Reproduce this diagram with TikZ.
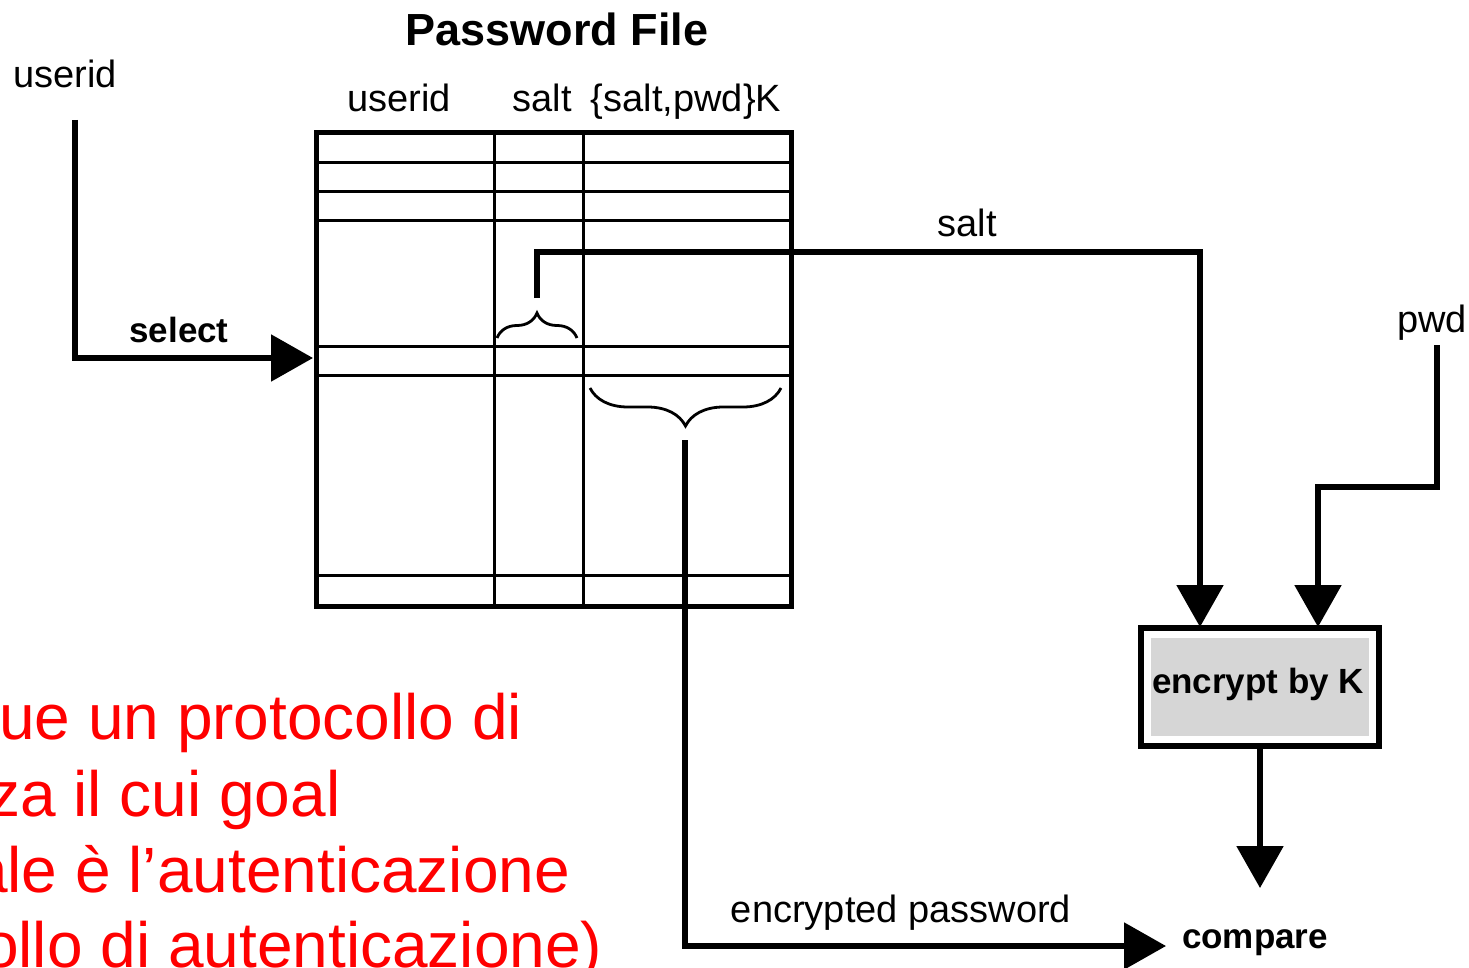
\documentclass[tikz,border=0pt]{standalone}
\usepackage{fontspec}
\setmainfont{Liberation Sans}
\usetikzlibrary{arrows.meta,decorations.pathreplacing}
\definecolor{boxgray}{RGB}{214,214,214}
\definecolor{notered}{RGB}{255,0,0}
\begin{document}
\begin{tikzpicture}[x=1pt,y=-1pt,
  lbl/.style={inner sep=0pt, anchor=base, font=\fontsize{38}{44}\selectfont},
  blbl/.style={inner sep=0pt, anchor=base, font=\fontsize{35}{42}\selectfont\bfseries},
  conn/.style={line width=5.5pt},
  bigtip/.style={-{Triangle[length=42pt,width=46pt]}},
  gridline/.style={line width=3pt},
  brc/.style={line width=2.8pt, decorate, decoration={brace, amplitude=#1}},
  redline/.style={inner sep=0pt, anchor=base west, text=notered,
    font=\fontsize{64}{76}\selectfont}
]
\useasboundingbox (0,0) rectangle (1469,968);
\fill[white] (0,0) rectangle (1469,968);
\clip (0,0) rectangle (1469,968);

% password file table
\node[draw, line width=5pt, minimum width=475pt, minimum height=473pt,
      inner sep=0pt] (pwfile) at (553.5,369.5) {};
\foreach \cx in {494,583}
  \draw[gridline] (\cx,133) -- (\cx,606);
\foreach \ry in {163,192,221,346,375,575}
  \draw[gridline] (316,\ry) -- (791,\ry);

% braces over the salt field and the encrypted field
\draw[brc=25pt] (497,338) -- (577,338);
\draw[brc=38pt] (781,388) -- (590,388);

% titles and column headers
\node[blbl, font=\fontsize{45}{54}\selectfont\bfseries] (title) at (557,46) {Password File};
\node[lbl] (hduid) at (399,112) {userid};
\node[lbl] (hdsalt) at (542,112) {salt};
\node[lbl] (hdenc) at (686,112) {\{salt,pwd\}K};

% inputs and labels
\node[lbl] (uidin) at (65,88) {userid};
\node[blbl] (sel) at (179,342) {select};
\node[lbl] (saltlbl) at (967,237) {salt};
\node[lbl] (pwdin) at (1432,332) {pwd};
\node[lbl] (encpw) at (901,922) {encrypted password};
\node[blbl] (cmp) at (1255,948) {compare};

% encryption box
\node[draw, line width=6pt, fill=white, minimum width=238pt, minimum height=118pt,
      inner sep=0pt] (enc) at (1260,687) {};
\node[fill=boxgray, minimum width=218pt, minimum height=98pt, inner sep=0pt]
      (encfill) at (1260,687) {};
\node[blbl] (enctext) at (1258,693) {encrypt by K};

% connector end points
\coordinate (uidfoot) at (75,120);
\coordinate (selin) at (313,358);
\coordinate (saltsrc) at (537,298);
\coordinate (encsalt) at (1200,627);
\coordinate (pwdfoot) at (1437,345);
\coordinate (encpwd) at (1318,627);
\coordinate (encpwsrc) at (685,440);
\coordinate (cmpin) at (1166,946);
\coordinate (cmptop) at (1260,888);

% connectors
\draw[conn, bigtip] (uidfoot) |- (selin);
\draw[conn, bigtip] (saltsrc) -- ++(0,-46) -| (encsalt);
\draw[conn, bigtip] (pwdfoot) -- ++(0,142) -| (encpwd);
\draw[conn, bigtip] (enc.south) -- (cmptop);
\draw[conn, bigtip] (encpwsrc) |- (cmpin);

% note text along the lower left edge
\node[redline] (rt1) at (-1,739) {ue un protocollo di};
\node[redline] (rt2) at (-12,816) {za il cui goal};
\node[redline] (rt3) at (-28,892) {ale è l’autenticazione};
\node[redline] (rt4) at (-17,967) {ollo di autenticazione)};
\end{tikzpicture}
\end{document}
